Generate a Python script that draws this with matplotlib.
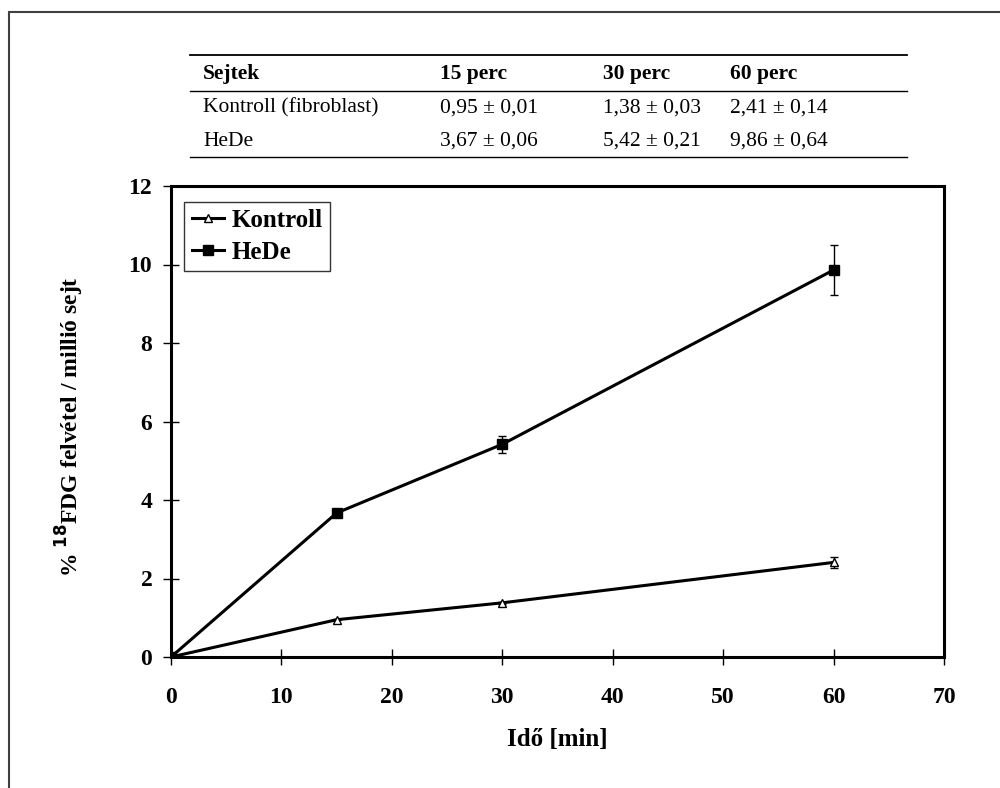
import matplotlib
matplotlib.use("Agg")
import matplotlib.pyplot as plt
from matplotlib.lines import Line2D
from matplotlib.patches import Rectangle

plt.rcParams['font.family'] = ['Liberation Serif', 'DejaVu Serif']

# data
times = [0, 15, 30, 60]
kontroll = [0, 0.95, 1.38, 2.41]
kontroll_err = [0, 0.01, 0.03, 0.14]
hede = [0, 3.67, 5.42, 9.86]
hede_err = [0, 0.06, 0.21, 0.64]

table_header = ["Sejtek", "15 perc", "30 perc", "60 perc"]
table_rows = [
    ["Kontroll (fibroblast)", "0,95 ± 0,01", "1,38 ± 0,03", "2,41 ± 0,14"],
    ["HeDe", "3,67 ± 0,06", "5,42 ± 0,21", "9,86 ± 0,64"],
]

W, H = 1000, 788
fig = plt.figure(figsize=(10, 7.88), dpi=100)

# outer frame (only left/top visible)
fig.patches.append(Rectangle((9 / W, -0.1), 1.2, 1 - 12 / H + 0.1,
                             transform=fig.transFigure, fill=False,
                             edgecolor='#404040', linewidth=1.5))

# -------------------------
# table on top
# -------------------------
col_x = [203, 440, 603, 730]
x0, x1 = 190 / W, 907 / W
for y, lw in [(55, 1.3), (91, 1.0), (157, 1.0)]:
    fig.lines.append(Line2D([x0, x1], [1 - y / H] * 2, transform=fig.transFigure,
                            color='black', linewidth=lw))
for cx, txt in zip(col_x, table_header):
    fig.text(cx / W, 1 - 74 / H, txt, fontsize=15.5, fontweight='bold',
             va='center', ha='left')
for ry, row in zip([108, 141], table_rows):
    for cx, txt in zip(col_x, row):
        fig.text(cx / W, 1 - ry / H, txt, fontsize=15.5, va='center', ha='left')

# -------------------------
# plot
# -------------------------
ax = fig.add_axes([171 / W, 131 / H, (944 - 171) / W, (657 - 186) / H])

ax.errorbar(times, kontroll, yerr=kontroll_err, color='black', linewidth=2.2,
            marker='^', markersize=6, markerfacecolor='white',
            markeredgecolor='black', markeredgewidth=1.0,
            capsize=3, elinewidth=1.0, capthick=1.0)
ax.errorbar(times, hede, yerr=hede_err, color='black', linewidth=2.2,
            marker='s', markersize=6.5, markerfacecolor='black',
            capsize=3, elinewidth=1.0, capthick=1.0)

ax.set_xlim(0, 70)
ax.set_ylim(0, 12)
ax.set_xticks(range(0, 71, 10))
ax.set_yticks(range(0, 13, 2))
ax.tick_params(direction='inout', length=11, width=1.0, labelsize=17)
ax.tick_params(axis='x', pad=16)
ax.tick_params(axis='y', pad=8)
for lab in ax.get_xticklabels() + ax.get_yticklabels():
    lab.set_fontweight('bold')
for sp in ax.spines.values():
    sp.set_linewidth(2.2)

ax.set_xlabel('Idő [min]', fontsize=18, fontweight='bold')
ax.xaxis.set_label_coords(0.5, -0.15)
ax.set_ylabel('% $^{\\mathbf{18}}$FDG felvétel / millió sejt', fontsize=17,
              fontweight='bold')
ax.yaxis.set_label_coords(-0.11, 0.49)

handles = [
    Line2D([], [], color='black', linewidth=2.2, marker='^', markersize=6,
           markerfacecolor='white', markeredgewidth=1.0),
    Line2D([], [], color='black', linewidth=2.2, marker='s', markersize=6.5,
           markerfacecolor='black'),
]
leg = ax.legend(handles, ['Kontroll', 'HeDe'], loc='upper left',
                bbox_to_anchor=(0.017, 0.967),
                prop={'weight': 'bold', 'size': 18}, frameon=True, fancybox=False,
                handlelength=1.3, handletextpad=0.3, borderpad=0.3,
                labelspacing=0.35, borderaxespad=0)
leg.get_frame().set_edgecolor('black')
leg.get_frame().set_linewidth(1.0)

fig.savefig('out.png', dpi=100)
